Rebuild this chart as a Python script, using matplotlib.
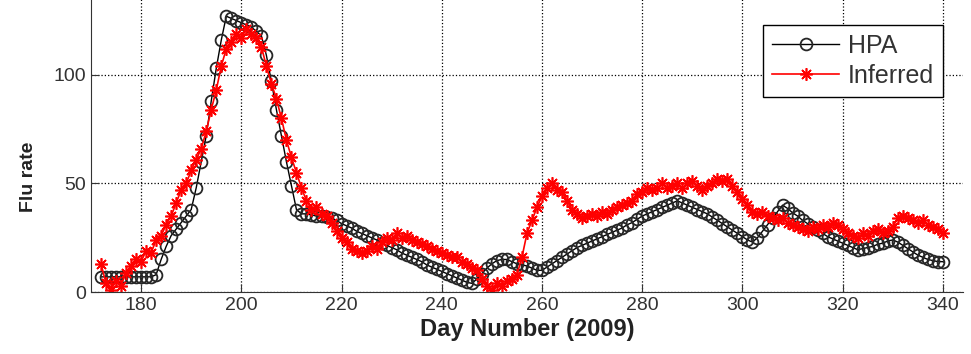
import numpy as np
import matplotlib.pyplot as plt

plt.rcParams['font.family'] = ['Liberation Sans', 'DejaVu Sans']

# days 172..340
days = np.arange(172, 341)

hpa = [7, 7, 7, 7, 7, 7, 7, 7, 7, 7,
       7, 8, 15, 21, 26, 29, 32, 35, 38, 48,
       60, 72, 88, 103, 116, 127, 126, 125, 124, 123,
       122, 120, 118, 109, 97, 84, 72, 60, 49, 38,
       36, 36, 35.5, 35, 35, 34.5, 34, 33, 31.5, 30.5,
       29.5, 28, 27, 26, 25, 24, 22.5, 21.5, 20.5, 19.5,
       18, 17, 16, 15, 14, 12.5, 11.5, 10.5, 9.5, 8.5,
       7.5, 6.5, 5.5, 4.5, 4, 6, 8.5, 11, 13, 14.5,
       15, 15, 14, 13, 12.5, 12, 11, 10, 10, 11.5,
       13, 14.5, 16, 17.5, 19, 20.5, 21.5, 22.5, 23.5, 24.5,
       25.5, 26.5, 27.5, 28.5, 29.5, 31, 32, 33.5, 35, 36,
       37, 38, 39, 40, 41, 42, 41, 40, 39, 38,
       37, 36, 34.5, 33, 31.5, 30, 28.5, 27, 25.5, 24,
       23, 25, 28, 31, 34, 37, 40, 38.5, 36.5, 35,
       33, 31.5, 30, 28.5, 27, 25.5, 24.5, 23.5, 22.5, 21.5,
       20.5, 19.5, 20, 20.5, 21, 22, 22.5, 23.5, 24, 23,
       21.5, 20, 18.5, 17, 16, 15, 14.5, 14, 14]

inferred = [13, 4, 1, 5, 3, 9, 12, 15, 14, 19,
            18, 24, 26, 31, 35, 41, 47, 50, 56, 61,
            66, 74, 84, 93, 104, 112, 115, 119, 117, 121,
            119, 117, 113, 104, 96, 89, 80, 70, 62, 55,
            48, 42, 38, 39, 36, 35, 32, 28, 25, 23,
            20, 19, 18, 19, 21, 20, 23, 25, 24, 27,
            25, 26, 24, 23, 22, 21, 20, 19, 18, 17,
            16, 16, 14, 13, 11, 10, 6, 3, 1, 4,
            3, 5, 6, 8, 16, 27, 33, 39, 44, 48,
            50, 47, 46, 42, 38, 36, 34, 35, 36, 35,
            37, 36, 38, 39, 40, 41, 42, 45, 46, 48,
            47, 48, 50, 48, 49, 50, 48, 50, 51, 49,
            47, 49, 50, 52, 51, 52, 49, 46, 43, 40,
            37, 36, 37, 35, 34, 33, 34, 32, 31, 30,
            29, 28, 30, 29, 31, 30, 32, 31, 29, 27,
            26, 25, 27, 26, 28, 29, 27, 28, 30, 34,
            35, 34, 33, 32, 33, 31, 30, 29, 27]

xticks = [180, 200, 220, 240, 260, 280, 300, 320, 340]
yticks = [0, 50, 100]

fig = plt.figure(figsize=(9.71, 3.54), dpi=100)
ax = fig.add_axes([0.0937, 0.175, 0.898, 0.859])

ax.plot(days, hpa, color='black', lw=1.0, marker='o', ms=8.5,
        mfc='none', mec='#262626', mew=1.3, label='HPA')
ax.plot(days, inferred, color='red', lw=1.2, marker=(8, 2, 0), ms=9,
        mew=1.2, label='Inferred')

ax.set_xlim(170, 344)
ax.set_ylim(0, 140)
ax.set_xticks(xticks)
ax.set_yticks(yticks)
ax.grid(True, linestyle=':', color='black', lw=0.9)
ax.set_axisbelow(True)
for s in ['top', 'right']:
    ax.spines[s].set_visible(False)
for s in ['left', 'bottom']:
    ax.spines[s].set_color('#333333')
ax.tick_params(direction='in', length=6, labelsize=14, colors='#333333',
               labelcolor='#333333')

ax.set_xlabel('Day Number (2009)', fontsize=17, fontweight='bold', color='#222222',
              labelpad=3)
ax.set_ylabel('Flu rate', fontsize=14, fontweight='bold', color='#222222')
ax.yaxis.set_label_coords(-0.062, 0.378)

leg = ax.legend(loc='upper right', bbox_to_anchor=(0.977, 0.878), borderaxespad=0,
                fontsize=18, handlelength=2.7, handletextpad=0.35, fancybox=False,
                framealpha=1, edgecolor='black', borderpad=0.35, labelspacing=0.25)
leg.get_frame().set_linewidth(1.0)
for t in leg.get_texts():
    t.set_color('#333333')

fig.savefig('out.png', dpi=100)
